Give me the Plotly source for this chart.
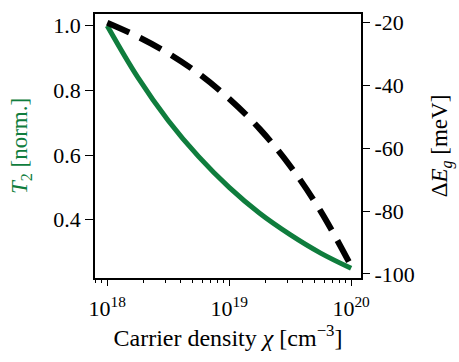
import plotly.graph_objects as go

# Carrier density (cm^-3), quarter-decade steps
density = [1e18, 1.778e18, 3.162e18, 5.623e18, 1e19, 1.778e19, 3.162e19, 5.623e19, 1e20]
# Normalised T2 (left axis)
t2_norm = [1.0, 0.841, 0.707, 0.595, 0.50, 0.420, 0.354, 0.297, 0.25]
# Bandgap shift in meV (right axis)
delta_eg = [-20.0, -24.4, -29.7, -36.2, -44.2, -53.8, -65.6, -80.0, -97.5]

x_major = [1e18, 1e19, 1e20]
x_major_text = ["10<sup>18</sup>", "10<sup>19</sup>", "10<sup>20</sup>"]
x_minor = [float(m) * 10.0**e for e in (17, 18, 19) for m in range(2, 10)] + [2e20]
y_left_ticks = [0.4, 0.6, 0.8, 1.0]
y_left_text = ["0.4", "0.6", "0.8", "1.0"]
y_right_ticks = [-100, -80, -60, -40, -20]
y_right_text = ["-100", "-80", "-60", "-40", "-20"]

GREEN = "#0f7d3d"
FONT = "Liberation Serif"
TICK_FS = 22
TITLE_FS = 23

fig = go.Figure()
fig.add_trace(go.Scatter(x=density, y=t2_norm, mode="lines",
                         line=dict(color=GREEN, width=5, shape="spline"),
                         yaxis="y", showlegend=False))
fig.add_trace(go.Scatter(x=density, y=delta_eg, mode="lines",
                         line=dict(color="black", width=6, dash="24px,12px", shape="spline"),
                         yaxis="y2", showlegend=False))

fig.update_layout(
    width=459, height=362,
    margin=dict(l=95, r=96, t=11, b=84),
    paper_bgcolor="white", plot_bgcolor="white",
    font=dict(family=FONT, size=TICK_FS, color="black"),
    xaxis=dict(type="log", range=[17.9, 20.081],
               tickmode="array", tickvals=x_major, ticktext=x_major_text,
               ticks="outside", ticklen=6, tickwidth=1.3, tickcolor="black",
               ticklabelstandoff=4,
               showline=True, linecolor="black", linewidth=1.5, mirror=True,
               showgrid=False, zeroline=False,
               tickfont=dict(family=FONT, size=TICK_FS, color="black"),
               minor=dict(tickmode="array", tickvals=x_minor, ticks="outside",
                          ticklen=3, tickwidth=1, tickcolor="black", showgrid=False),
               title=dict(text="Carrier density <i>χ</i> [cm<sup>−3</sup>]",
                          font=dict(family=FONT, size=TITLE_FS + 1, color="black"), standoff=9)),
    yaxis=dict(range=[0.220, 1.036],
               tickmode="array", tickvals=y_left_ticks, ticktext=y_left_text,
               ticks="outside", ticklen=8, tickwidth=1.3, tickcolor="black",
               showline=True, linecolor="black", linewidth=1.5, mirror=True,
               showgrid=False, zeroline=False,
               tickfont=dict(family=FONT, size=TICK_FS, color="black"),
               title=dict(text="<i>T</i><sub>2</sub> [norm.]",
                          font=dict(family=FONT, size=TITLE_FS, color=GREEN), standoff=19)),
    yaxis2=dict(range=[-101.3, -17.2], overlaying="y", side="right",
                tickmode="array", tickvals=y_right_ticks, ticktext=y_right_text,
                ticks="outside", ticklen=8, tickwidth=1.3, tickcolor="black",
                showline=False, showgrid=False, zeroline=False,
                tickfont=dict(family=FONT, size=TICK_FS, color="black"),
                title=dict(text="Δ<i>E<sub>g</sub></i> [meV]",
                           font=dict(family=FONT, size=TITLE_FS, color="black"), standoff=17)),
)

fig.write_html("out.html")
